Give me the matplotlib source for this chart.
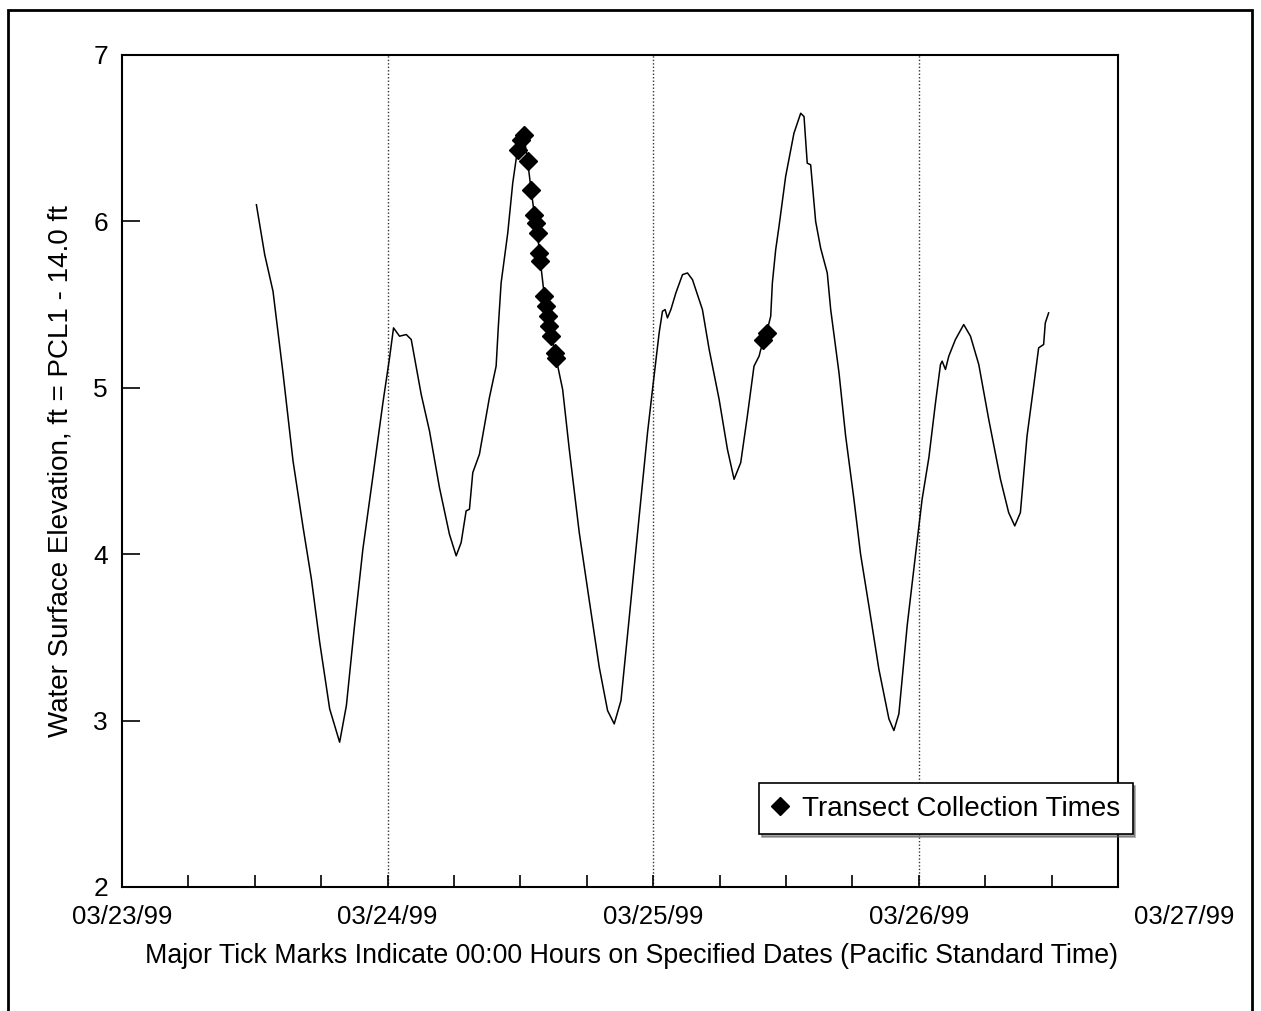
import matplotlib
matplotlib.use('Agg')
import matplotlib.pyplot as plt
from matplotlib.patches import Rectangle
from matplotlib.transforms import blended_transform_factory

plt.rcParams['font.family'] = ['Liberation Sans', 'DejaVu Sans']

# Water surface record, hours after 03/23/99 00:00 PST
hours = [12.15, 12.90, 13.65, 14.55, 15.46, 16.37, 17.12, 17.87, 18.77, 19.67,
         20.28, 21.03, 21.77, 22.68, 23.58, 24.18, 24.54, 25.08, 25.69, 26.14,
         27.04, 27.79, 28.69, 29.59, 30.20, 30.65, 31.10, 31.40, 31.70, 32.30,
         33.20, 33.81, 34.02, 34.26, 34.86, 35.31, 35.61, 36.00, 36.36, 36.66,
         36.97, 37.27, 37.56, 37.72, 38.17, 38.62, 39.22, 39.82, 40.42, 41.32,
         42.23, 43.13, 43.88, 44.48, 45.09, 45.84, 46.74, 47.49, 47.94, 48.54,
         48.84, 49.08, 49.29, 49.60, 50.05, 50.65, 51.10, 51.55, 52.45, 53.06,
         53.96, 54.71, 55.31, 55.91, 56.51, 57.11, 57.57, 57.72, 58.17, 58.62,
         58.77, 59.07, 59.37, 59.97, 60.72, 61.33, 61.63, 61.92, 62.23, 62.68,
         63.13, 63.73, 64.04, 64.79, 65.39, 66.14, 66.74, 67.49, 68.39, 69.30,
         69.75, 70.20, 70.95, 71.71, 72.30, 72.91, 73.51, 73.96, 74.11, 74.41,
         74.71, 75.31, 76.06, 76.67, 77.42, 78.32, 79.38, 80.12, 80.67, 81.18,
         81.78, 82.38, 82.83, 83.28, 83.43, 83.73]
elevation = [6.10, 5.80, 5.58, 5.09, 4.56, 4.16, 3.85, 3.47, 3.07, 2.87,
             3.09, 3.58, 4.03, 4.47, 4.91, 5.18, 5.36, 5.31, 5.32, 5.29,
             4.96, 4.74, 4.40, 4.12, 3.99, 4.07, 4.26, 4.27, 4.49, 4.60,
             4.94, 5.13, 5.38, 5.63, 5.93, 6.23, 6.37, 6.52, 6.50, 6.36,
             6.19, 6.04, 5.93, 5.81, 5.55, 5.37, 5.18, 4.99, 4.63, 4.13,
             3.72, 3.32, 3.06, 2.98, 3.12, 3.62, 4.23, 4.73, 4.99, 5.33,
             5.46, 5.47, 5.42, 5.47, 5.57, 5.68, 5.69, 5.65, 5.47, 5.23,
             4.93, 4.63, 4.45, 4.55, 4.83, 5.13, 5.19, 5.23, 5.31, 5.43,
             5.63, 5.83, 5.97, 6.27, 6.53, 6.65, 6.63, 6.35, 6.34, 6.00,
             5.84, 5.69, 5.47, 5.09, 4.71, 4.33, 4.00, 3.69, 3.31, 3.01,
             2.94, 3.04, 3.57, 4.00, 4.33, 4.58, 4.91, 5.14, 5.16, 5.11,
             5.19, 5.29, 5.38, 5.31, 5.14, 4.81, 4.45, 4.25, 4.17, 4.25,
             4.71, 5.01, 5.24, 5.26, 5.39, 5.45]

# Transect collection times
transect_hours = [35.76, 36.07, 36.36, 36.66, 36.97, 37.27, 37.42, 37.56, 37.65,
                  37.78, 38.17, 38.32, 38.47, 38.62, 38.77, 39.16, 39.22,
                  57.93, 58.29]
transect_elev = [6.43, 6.49, 6.52, 6.36, 6.19, 6.04, 5.99, 5.93, 5.81,
                 5.76, 5.55, 5.49, 5.43, 5.37, 5.31, 5.21, 5.18,
                 5.29, 5.33]

day_hours = [0, 24, 48, 72, 96]
day_labels = ['03/23/99', '03/24/99', '03/25/99', '03/26/99', '03/27/99']
y_ticks = [2, 3, 4, 5, 6, 7]

fig = plt.figure(figsize=(12.61, 10.11), dpi=100)
ax = fig.add_axes([0.0967, 0.1227, 0.7899, 0.8229])

# outer frame around the whole figure
fig.patches.append(Rectangle((0.0065, -0.02), 0.9865, 1.01, transform=fig.transFigure,
                             fill=False, edgecolor='black', linewidth=2))

for d in day_hours[1:4]:
    ax.axvline(d, color='#333333', linestyle=(0, (1, 1.5)), linewidth=1.0, zorder=1)

ax.plot(hours, elevation, color='black', linewidth=1.1, zorder=2)
ax.plot(transect_hours, transect_elev, linestyle='none', marker='D', markersize=9,
        color='black', label='Transect Collection Times', zorder=3)

ax.set_xlim(0, 90)
ax.set_ylim(2, 7)
ax.set_yticks(y_ticks)
ax.set_yticklabels([str(v) for v in y_ticks], fontsize=19)
ax.set_xticks(day_hours[:4])
ax.set_xticklabels(day_labels[:4], fontsize=18.5)
ax.set_xticks(range(0, 91, 6), minor=True)
ax.tick_params(axis='x', which='both', direction='in', length=9, width=1.2, pad=13)
ax.tick_params(axis='y', direction='in', length=13, width=1.2, pad=10)

# last date label sits past the end of the axis
trans = blended_transform_factory(ax.transData, ax.transAxes)
ax.text(day_hours[4], -0.022, day_labels[4], transform=trans, fontsize=18.5,
        ha='center', va='top', clip_on=False)

for s in ax.spines.values():
    s.set_linewidth(1.5)

ax.set_xlabel('Major Tick Marks Indicate 00:00 Hours on Specified Dates (Pacific Standard Time)',
              fontsize=19.3)
ax.xaxis.set_label_coords(0.512, -0.067)
ax.set_ylabel('Water Surface Elevation, ft = PCL1 - 14.0 ft', fontsize=20, labelpad=14)

leg = ax.legend(loc='center', bbox_to_anchor=(0.827, 0.094), fontsize=20, frameon=True,
                fancybox=False, shadow=True, edgecolor='black', handlelength=0.6,
                handletextpad=0.5, borderpad=0.45, markerscale=1.0)
leg.get_frame().set_linewidth(1.2)

plt.savefig('out.png', dpi=100)
plt.close()
